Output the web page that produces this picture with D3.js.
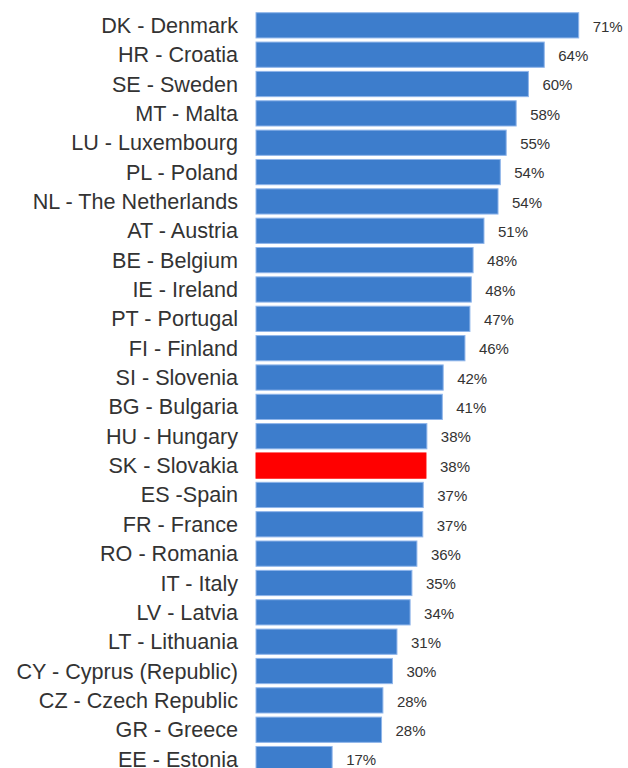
<!DOCTYPE html>
<html>
<head>
<meta charset="utf-8">
<script src="https://cdn.jsdelivr.net/npm/d3@7"></script>
<style>
  body { margin: 0; background: #fff; overflow: hidden; }
</style>
</head>
<body>
<script>
// Data
var countries = ["DK - Denmark", "HR - Croatia", "SE - Sweden", "MT - Malta", "LU - Luxembourg",
	"PL - Poland", "NL - The Netherlands", "AT - Austria", "BE - Belgium", "IE - Ireland",
	"PT - Portugal", "FI - Finland", "SI - Slovenia", "BG - Bulgaria", "HU - Hungary",
	"SK - Slovakia", "ES -Spain", "FR - France", "RO - Romania", "IT - Italy",
	"LV - Latvia", "LT - Lithuania", "CY - Cyprus (Republic)", "CZ - Czech Republic",
	"GR - Greece", "EE - Estonia"];
var values = [71.2, 63.6, 60.1, 57.4, 55.2, 53.9, 53.4, 50.3, 47.9, 47.5, 47.2, 46.1, 41.3,
	41.1, 37.7, 37.5, 36.9, 36.8, 35.5, 34.4, 34.0, 31.1, 30.1, 28.0, 27.7, 16.8];
var labels = ["71%", "64%", "60%", "58%", "55%", "54%", "54%", "51%", "48%", "48%", "47%",
	"46%", "42%", "41%", "38%", "38%", "37%", "37%", "36%", "35%", "34%", "31%", "30%",
	"28%", "28%", "17%"];
var highlight = "SK - Slovakia";

var bar_color = "#3d7dcc";
var bar_stroke = "#8fb5ea";
var high_color = "#ff0000";
var text_color = "#333333";

var width = 628, height = 768;

var svg = d3.select("body").append("svg")
	.attr("width", width)
	.attr("height", height)
	.style("display", "block");

var rows = countries.map(function (c, i) {
	return { name: c, value: values[i], label: labels[i] };
});

// scales
var x = d3.scaleLinear()
	.domain([0, 71.2])
	.range([256, 578.7]);

var y = d3.scaleBand()
	.domain(countries)
	.range([8.6, 8.6 + 26.14 * 29.35])
	.padding(0.14);

// bars
svg.selectAll("rect.bar")
	.data(rows)
	.enter().append("rect")
	.attr("class", "bar")
	.attr("x", x(0))
	.attr("y", function (d) { return y(d.name); })
	.attr("width", function (d) { return x(d.value) - x(0); })
	.attr("height", y.bandwidth())
	.style("fill", function (d) { return d.name === highlight ? high_color : bar_color; })
	.style("stroke", function (d) { return d.name === highlight ? high_color : bar_stroke; })
	.style("stroke-width", 1);

// country names
svg.selectAll("text.name")
	.data(rows)
	.enter().append("text")
	.attr("class", "name")
	.attr("x", 238)
	.attr("y", function (d) { return y(d.name) + y.bandwidth() / 2; })
	.attr("dy", "0.35em")
	.attr("text-anchor", "end")
	.style("font", "21.6px 'Liberation Sans', Arial, sans-serif")
	.style("fill", text_color)
	.text(function (d) { return d.name; });

// value labels
svg.selectAll("text.value")
	.data(rows)
	.enter().append("text")
	.attr("class", "value")
	.attr("x", function (d) { return x(d.value) + 14; })
	.attr("y", function (d) { return y(d.name) + y.bandwidth() / 2 + 1; })
	.attr("dy", "0.35em")
	.style("font", "15px 'Liberation Sans', Arial, sans-serif")
	.style("fill", text_color)
	.text(function (d) { return d.label; });
</script>
</body>
</html>
